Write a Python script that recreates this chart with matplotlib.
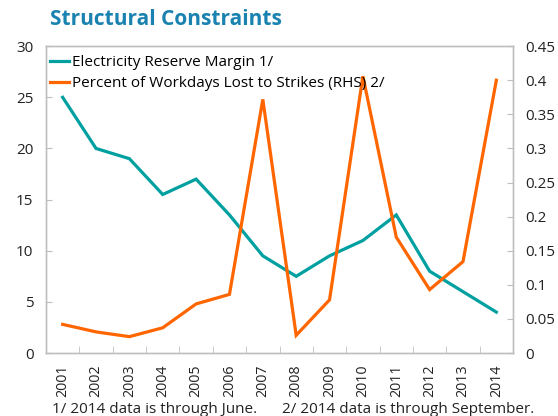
import matplotlib
matplotlib.use("Agg")
import matplotlib.pyplot as plt

plt.rcParams['font.family'] = ['Open Sans', 'DejaVu Sans']

years = ["2001", "2002", "2003", "2004", "2005", "2006", "2007",
         "2008", "2009", "2010", "2011", "2012", "2013", "2014"]
reserve_margin = [25, 20, 19, 15.5, 17, 13.5, 9.5, 7.5, 9.5, 11, 13.5, 8, 6, 4]
strikes = [0.042, 0.031, 0.024, 0.037, 0.072, 0.086, 0.372, 0.026, 0.078,
           0.406, 0.170, 0.093, 0.134, 0.400]
left_ticks = [0, 5, 10, 15, 20, 25, 30]
right_ticks = [0, 0.05, 0.1, 0.15, 0.2, 0.25, 0.3, 0.35, 0.4, 0.45]
right_labels = ["0", "0.05", "0.1", "0.15", "0.2", "0.25", "0.3", "0.35", "0.4", "0.45"]

teal = "#00a0a0"
orange = "#ff6600"
grey = "#bfbfbf"
fs = 11.0
tfs = 10.3

fig = plt.figure(figsize=(5.58, 4.16), dpi=100)
ax = fig.add_axes([0.0824, 0.1514, 0.9194 - 0.0824, 0.889 - 0.1514])
ax2 = ax.twinx()

x = list(range(len(years)))
l1, = ax.plot(x, reserve_margin, color=teal, lw=2.3, solid_joinstyle='miter')
l2, = ax2.plot(x, strikes, color=orange, lw=2.3, solid_joinstyle='miter')

ax.set_xlim(-0.5, len(years) - 0.5)
ax.set_ylim(0, 30)
ax2.set_ylim(0, 0.45)
ax.set_yticks(left_ticks)
ax.set_yticklabels([str(t) for t in left_ticks], fontsize=fs, color="#222222")
ax2.set_yticks(right_ticks)
ax2.set_yticklabels(right_labels, fontsize=fs, color="#222222")
ax.set_xticks(x)
ax.set_xticklabels(years, rotation=90, fontsize=tfs, color="#222222")
ax.set_xticks([i + 0.5 for i in x[:-1]], minor=True)
ax.tick_params(axis='x', which='major', length=0, pad=8)
ax.tick_params(axis='x', which='minor', direction='in', length=5, color=grey)
ax.tick_params(axis='y', direction='in', length=4, color=grey, pad=9)
ax2.tick_params(axis='y', direction='in', length=4, color=grey, pad=9)

for a in (ax, ax2):
    for s in a.spines.values():
        s.set_color(grey)
        s.set_linewidth(1)

leg = ax2.legend([l1, l2], ["Electricity Reserve Margin 1/",
                            "Percent of Workdays Lost to Strikes (RHS) 2/"],
                 loc='upper left', frameon=False, fontsize=fs,
                 handlelength=1.2, handletextpad=0.2, borderaxespad=0.2,
                 labelspacing=0.4, bbox_to_anchor=(-0.01, 1.0))

fig.text(0.0895, 0.953, "Structural Constraints", fontsize=15, fontweight='bold',
         color="#1a82b0", ha='left', va='center')
fig.text(0.093, 0.016, "1/ 2014 data is through June.", fontsize=fs,
         color="#222222", ha='left', va='center')
fig.text(0.505, 0.016, "2/ 2014 data is through September.", fontsize=fs,
         color="#222222", ha='left', va='center')

fig.savefig("out.png", dpi=100)
